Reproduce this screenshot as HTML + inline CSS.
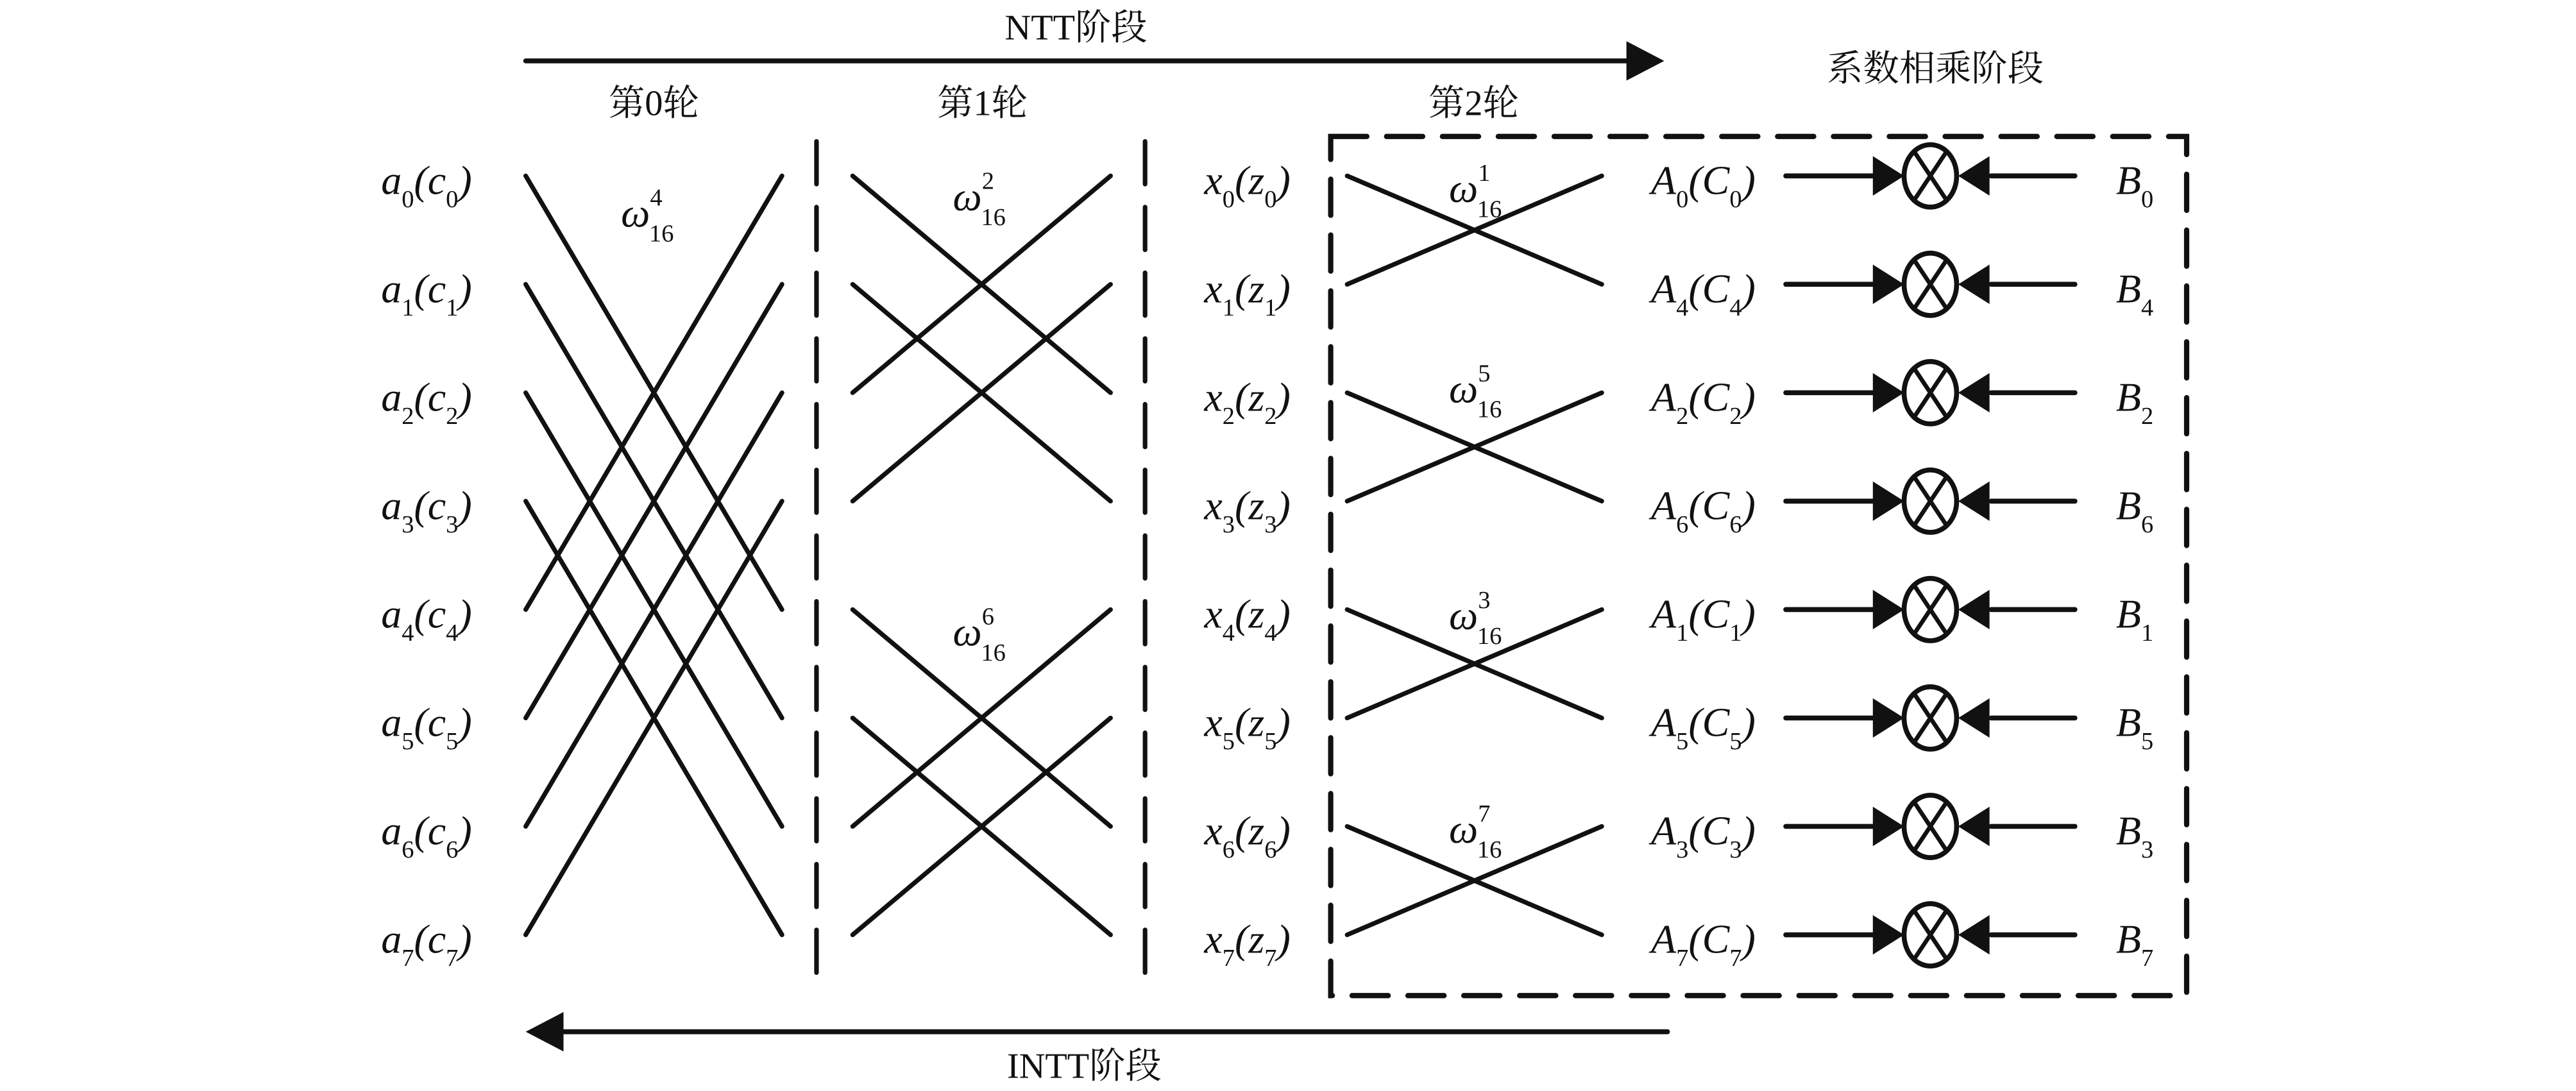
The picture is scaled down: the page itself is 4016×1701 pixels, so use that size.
<!DOCTYPE html>
<html><head><meta charset="utf-8"><style>
html,body{margin:0;padding:0;background:#fff;}
svg{display:block;}
text{font-family:"Liberation Serif","Noto Serif CJK SC",serif;fill:#111;}
.m{font-style:italic;font-size:25px;}
.s{font-style:normal;font-size:15px;}
.c{font-size:22px;}
</style></head><body>
<svg width="4016" height="1701" viewBox="0 0 1568 664" xmlns="http://www.w3.org/2000/svg">
<defs>
<g id="mul">
<g stroke="#111" stroke-width="3" fill="none" stroke-linecap="round">
<line x1="1087" y1="0" x2="1145" y2="0"/>
<line x1="1212" y1="0" x2="1263" y2="0"/>
<ellipse cx="1175" cy="0" rx="16" ry="19"/>
<line x1="1165" y1="-15" x2="1185" y2="15" stroke-width="2.6"/>
<line x1="1185" y1="-15" x2="1165" y2="15" stroke-width="2.6"/>
</g>
<polygon points="1140,-12 1159,0 1140,12" fill="#111"/>
<polygon points="1211,-12 1192,0 1211,12" fill="#111"/>
</g>
</defs>
<g stroke="#111" stroke-width="2.8" stroke-linecap="round" fill="none">
<line x1="320" y1="37" x2="992" y2="37" stroke-width="3"/>
<line x1="340" y1="628" x2="1015" y2="628" stroke-width="3"/>
<line x1="497" y1="86" x2="497" y2="595" stroke-dasharray="26,14"/>
<line x1="697" y1="86" x2="697" y2="595" stroke-dasharray="26,14"/>
<rect x="810" y="83" width="521" height="523" stroke-width="3.2" stroke-dasharray="22,12"/>
<line x1="320" y1="107" x2="476" y2="371"/><line x1="320" y1="371" x2="476" y2="107"/>
<line x1="320" y1="173" x2="476" y2="437"/><line x1="320" y1="437" x2="476" y2="173"/>
<line x1="320" y1="239" x2="476" y2="503"/><line x1="320" y1="503" x2="476" y2="239"/>
<line x1="320" y1="305" x2="476" y2="569"/><line x1="320" y1="569" x2="476" y2="305"/>
<line x1="519" y1="107" x2="676" y2="239"/><line x1="519" y1="239" x2="676" y2="107"/>
<line x1="519" y1="173" x2="676" y2="305"/><line x1="519" y1="305" x2="676" y2="173"/>
<line x1="519" y1="371" x2="676" y2="503"/><line x1="519" y1="503" x2="676" y2="371"/>
<line x1="519" y1="437" x2="676" y2="569"/><line x1="519" y1="569" x2="676" y2="437"/>
<line x1="820" y1="107" x2="975" y2="173"/><line x1="820" y1="173" x2="975" y2="107"/>
<line x1="820" y1="239" x2="975" y2="305"/><line x1="820" y1="305" x2="975" y2="239"/>
<line x1="820" y1="371" x2="975" y2="437"/><line x1="820" y1="437" x2="975" y2="371"/>
<line x1="820" y1="503" x2="975" y2="569"/><line x1="820" y1="569" x2="975" y2="503"/>
</g>
<g fill="#111">
<polygon points="990,25 1013,37 990,49"/>
<polygon points="343,616 320,628 343,640"/>
</g>
<use href="#mul" transform="translate(0,107)"/>
<use href="#mul" transform="translate(0,173)"/>
<use href="#mul" transform="translate(0,239)"/>
<use href="#mul" transform="translate(0,305)"/>
<use href="#mul" transform="translate(0,371)"/>
<use href="#mul" transform="translate(0,437)"/>
<use href="#mul" transform="translate(0,503)"/>
<use href="#mul" transform="translate(0,569)"/>

<text class="c" x="655" y="24" text-anchor="middle">NTT阶段</text>
<text class="c" x="660" y="656" text-anchor="middle">INTT阶段</text>
<text class="c" x="398" y="70" text-anchor="middle">第0轮</text>
<text class="c" x="598" y="70" text-anchor="middle">第1轮</text>
<text class="c" x="897" y="70" text-anchor="middle">第2轮</text>
<text class="c" x="1178" y="49" text-anchor="middle">系数相乘阶段</text>

<text class="m" x="378" y="138">ω<tspan class="s" dy="-13">4</tspan><tspan class="s" dx="-8" dy="22">16</tspan></text>
<text class="m" x="580" y="128">ω<tspan class="s" dy="-13">2</tspan><tspan class="s" dx="-8" dy="22">16</tspan></text>
<text class="m" x="580" y="393">ω<tspan class="s" dy="-13">6</tspan><tspan class="s" dx="-8" dy="22">16</tspan></text>
<text class="m" x="882" y="123">ω<tspan class="s" dy="-13">1</tspan><tspan class="s" dx="-8" dy="22">16</tspan></text>
<text class="m" x="882" y="245">ω<tspan class="s" dy="-13">5</tspan><tspan class="s" dx="-8" dy="22">16</tspan></text>
<text class="m" x="882" y="383">ω<tspan class="s" dy="-13">3</tspan><tspan class="s" dx="-8" dy="22">16</tspan></text>
<text class="m" x="882" y="513">ω<tspan class="s" dy="-13">7</tspan><tspan class="s" dx="-8" dy="22">16</tspan></text>

<text class="m" x="232" y="118">a<tspan class="s" dy="8">0</tspan><tspan dy="-8">(c</tspan><tspan class="s" dy="8">0</tspan><tspan dy="-8">)</tspan></text>
<text class="m" x="232" y="184">a<tspan class="s" dy="8">1</tspan><tspan dy="-8">(c</tspan><tspan class="s" dy="8">1</tspan><tspan dy="-8">)</tspan></text>
<text class="m" x="232" y="250">a<tspan class="s" dy="8">2</tspan><tspan dy="-8">(c</tspan><tspan class="s" dy="8">2</tspan><tspan dy="-8">)</tspan></text>
<text class="m" x="232" y="316">a<tspan class="s" dy="8">3</tspan><tspan dy="-8">(c</tspan><tspan class="s" dy="8">3</tspan><tspan dy="-8">)</tspan></text>
<text class="m" x="232" y="382">a<tspan class="s" dy="8">4</tspan><tspan dy="-8">(c</tspan><tspan class="s" dy="8">4</tspan><tspan dy="-8">)</tspan></text>
<text class="m" x="232" y="448">a<tspan class="s" dy="8">5</tspan><tspan dy="-8">(c</tspan><tspan class="s" dy="8">5</tspan><tspan dy="-8">)</tspan></text>
<text class="m" x="232" y="514">a<tspan class="s" dy="8">6</tspan><tspan dy="-8">(c</tspan><tspan class="s" dy="8">6</tspan><tspan dy="-8">)</tspan></text>
<text class="m" x="232" y="580">a<tspan class="s" dy="8">7</tspan><tspan dy="-8">(c</tspan><tspan class="s" dy="8">7</tspan><tspan dy="-8">)</tspan></text>

<text class="m" x="733" y="118">x<tspan class="s" dy="8">0</tspan><tspan dy="-8">(z</tspan><tspan class="s" dy="8">0</tspan><tspan dy="-8">)</tspan></text>
<text class="m" x="733" y="184">x<tspan class="s" dy="8">1</tspan><tspan dy="-8">(z</tspan><tspan class="s" dy="8">1</tspan><tspan dy="-8">)</tspan></text>
<text class="m" x="733" y="250">x<tspan class="s" dy="8">2</tspan><tspan dy="-8">(z</tspan><tspan class="s" dy="8">2</tspan><tspan dy="-8">)</tspan></text>
<text class="m" x="733" y="316">x<tspan class="s" dy="8">3</tspan><tspan dy="-8">(z</tspan><tspan class="s" dy="8">3</tspan><tspan dy="-8">)</tspan></text>
<text class="m" x="733" y="382">x<tspan class="s" dy="8">4</tspan><tspan dy="-8">(z</tspan><tspan class="s" dy="8">4</tspan><tspan dy="-8">)</tspan></text>
<text class="m" x="733" y="448">x<tspan class="s" dy="8">5</tspan><tspan dy="-8">(z</tspan><tspan class="s" dy="8">5</tspan><tspan dy="-8">)</tspan></text>
<text class="m" x="733" y="514">x<tspan class="s" dy="8">6</tspan><tspan dy="-8">(z</tspan><tspan class="s" dy="8">6</tspan><tspan dy="-8">)</tspan></text>
<text class="m" x="733" y="580">x<tspan class="s" dy="8">7</tspan><tspan dy="-8">(z</tspan><tspan class="s" dy="8">7</tspan><tspan dy="-8">)</tspan></text>

<text class="m" x="1005" y="118">A<tspan class="s" dy="8">0</tspan><tspan dy="-8">(C</tspan><tspan class="s" dy="8">0</tspan><tspan dy="-8">)</tspan></text>
<text class="m" x="1005" y="184">A<tspan class="s" dy="8">4</tspan><tspan dy="-8">(C</tspan><tspan class="s" dy="8">4</tspan><tspan dy="-8">)</tspan></text>
<text class="m" x="1005" y="250">A<tspan class="s" dy="8">2</tspan><tspan dy="-8">(C</tspan><tspan class="s" dy="8">2</tspan><tspan dy="-8">)</tspan></text>
<text class="m" x="1005" y="316">A<tspan class="s" dy="8">6</tspan><tspan dy="-8">(C</tspan><tspan class="s" dy="8">6</tspan><tspan dy="-8">)</tspan></text>
<text class="m" x="1005" y="382">A<tspan class="s" dy="8">1</tspan><tspan dy="-8">(C</tspan><tspan class="s" dy="8">1</tspan><tspan dy="-8">)</tspan></text>
<text class="m" x="1005" y="448">A<tspan class="s" dy="8">5</tspan><tspan dy="-8">(C</tspan><tspan class="s" dy="8">5</tspan><tspan dy="-8">)</tspan></text>
<text class="m" x="1005" y="514">A<tspan class="s" dy="8">3</tspan><tspan dy="-8">(C</tspan><tspan class="s" dy="8">3</tspan><tspan dy="-8">)</tspan></text>
<text class="m" x="1005" y="580">A<tspan class="s" dy="8">7</tspan><tspan dy="-8">(C</tspan><tspan class="s" dy="8">7</tspan><tspan dy="-8">)</tspan></text>

<text class="m" x="1288" y="118">B<tspan class="s" dy="8">0</tspan></text>
<text class="m" x="1288" y="184">B<tspan class="s" dy="8">4</tspan></text>
<text class="m" x="1288" y="250">B<tspan class="s" dy="8">2</tspan></text>
<text class="m" x="1288" y="316">B<tspan class="s" dy="8">6</tspan></text>
<text class="m" x="1288" y="382">B<tspan class="s" dy="8">1</tspan></text>
<text class="m" x="1288" y="448">B<tspan class="s" dy="8">5</tspan></text>
<text class="m" x="1288" y="514">B<tspan class="s" dy="8">3</tspan></text>
<text class="m" x="1288" y="580">B<tspan class="s" dy="8">7</tspan></text>
</svg>
</body></html>
